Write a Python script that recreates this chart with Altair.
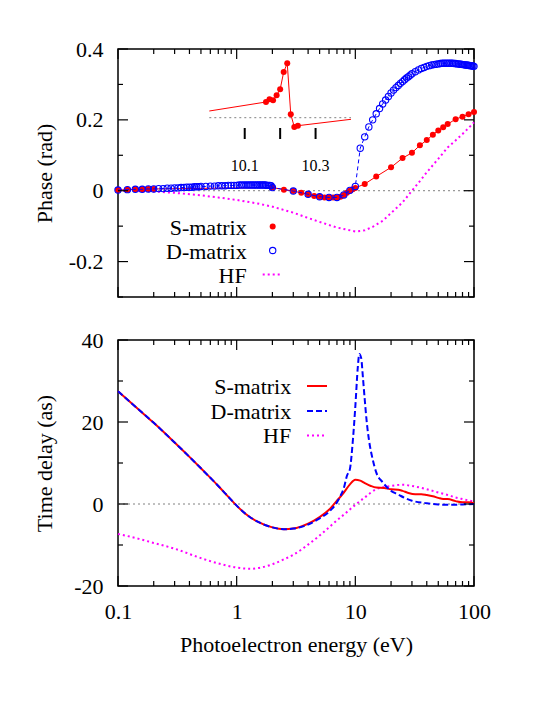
import altair as alt
import pandas as pd

FONT = "Liberation Serif"
RED, BLUE, MAG, GREY, BLACK = "#ff0000", "#0000ff", "#ff00ff", "#808080", "#000000"
W, H1, H2 = 356, 248, 246

# ---------------- top panel: phase (rad) ----------------
s_energy = [0.1, 0.12, 0.14, 0.16, 0.18, 0.2, 2, 2.5, 3, 3.5, 4, 4.5, 5, 5.5, 6, 6.5, 7, 7.5,
            8, 8.5, 9, 9.5, 10, 12, 15, 20, 25, 30, 35, 40, 45, 50, 55, 60, 70, 80, 90, 100]
s_phase = [0.002, 0.003, 0.004, 0.004, 0.005, 0.005, 0.009, 0.003, -0.001, -0.006, -0.010,
           -0.015, -0.017, -0.019, -0.019, -0.019, -0.019, -0.017, -0.012, -0.006, 0.000,
           0.004, 0.008, 0.019, 0.040, 0.066, 0.092, 0.107, 0.128, 0.143, 0.158, 0.170,
           0.179, 0.188, 0.202, 0.209, 0.216, 0.222]

d_energy = [0.10, 0.12, 0.14, 0.16, 0.18, 0.20, 0.22, 0.24, 0.26, 0.28, 0.30, 0.32, 0.34,
            0.36, 0.38, 0.40, 0.42, 0.44, 0.46, 0.48, 0.50, 0.55, 0.60, 0.65, 0.70, 0.75,
            0.80, 0.85, 0.90, 0.95, 1.00, 1.05, 1.10, 1.15, 1.20, 1.25, 1.30, 1.35, 1.40,
            1.45, 1.50, 1.55, 1.60, 1.65, 1.70, 1.75, 1.80, 1.85, 1.90, 1.95,
            2, 3, 4, 5, 6, 7, 8, 9, 10, 11, 12, 13, 14, 15, 16, 17, 18, 19, 20, 21, 22, 23,
            24, 25, 26, 27, 28, 29, 30, 32, 34, 36, 38, 40, 42, 44, 46, 48, 50, 52, 54, 56,
            58, 60, 62, 64, 66, 68, 70, 72, 74, 76, 78, 80, 82, 84, 86, 88, 90, 92, 94, 96,
            98, 100]
d_phase = [0.002, 0.003, 0.004, 0.004, 0.005, 0.005, 0.006, 0.006, 0.007, 0.007, 0.008,
           0.008, 0.009, 0.009, 0.010, 0.010, 0.010, 0.011, 0.011, 0.011, 0.012, 0.012,
           0.013, 0.013, 0.014, 0.014, 0.014, 0.015, 0.015, 0.015, 0.015, 0.016, 0.016,
           0.016, 0.016, 0.016, 0.016, 0.016, 0.016, 0.016, 0.016, 0.016, 0.016, 0.016,
           0.016, 0.016, 0.015, 0.015, 0.015, 0.014,
           0.009, -0.001, -0.010, -0.017, -0.019, -0.019, -0.012, 0.001, 0.012, 0.120,
           0.152, 0.180, 0.200, 0.217, 0.232, 0.245, 0.256, 0.266, 0.276, 0.284, 0.291,
           0.297, 0.303, 0.308, 0.313, 0.318, 0.322, 0.326, 0.330, 0.336, 0.341, 0.345,
           0.348, 0.351, 0.353, 0.355, 0.356, 0.357, 0.358, 0.359, 0.360, 0.360, 0.360,
           0.360, 0.360, 0.360, 0.360, 0.359, 0.359, 0.358, 0.358, 0.357, 0.357, 0.356,
           0.356, 0.355, 0.355, 0.354, 0.354, 0.353, 0.353, 0.352, 0.352, 0.351]

hf_energy = [0.1, 0.2, 0.3, 0.5, 0.7, 1, 1.5, 2, 3, 4, 5, 7, 10, 12, 14, 17, 20, 25, 30, 35,
             40, 50, 60, 70, 80, 90, 100]
hf_phase = [0.000, -0.002, -0.006, -0.013, -0.019, -0.026, -0.036, -0.045, -0.062, -0.077,
            -0.088, -0.104, -0.115, -0.112, -0.102, -0.085, -0.063, -0.033, 0.000, 0.027,
            0.052, 0.090, 0.122, 0.142, 0.160, 0.177, 0.193]

# inset: S-matrix phase near the 10.2 eV resonance
ins_energy = [10.0, 10.16, 10.17, 10.18, 10.19, 10.20, 10.21, 10.22, 10.23, 10.24, 10.25, 10.4]
ins_phase = [0.0067, 0.0157, 0.0184, 0.0174, 0.0224, 0.0284, 0.0457, 0.0544, 0.0034,
             -0.0093, -0.0080, -0.0016]
ins_marked = [False] + [True] * 10 + [False]
ins_ticks = [10.1, 10.2, 10.3]
ins_labels = ["10.1", "10.3"]
ins_label_pos = [10.1, 10.3]

# ---------------- bottom panel: time delay (as) ----------------
ts_energy = [0.1, 0.15, 0.2, 0.3, 0.4, 0.5, 0.7, 0.8, 0.9, 1, 1.2, 1.5, 2, 2.5, 3, 4, 5, 6,
             7, 8, 9, 10, 11, 12, 13.5, 15, 17.5, 20, 23, 25, 28, 32, 36, 40, 45, 50, 55, 60,
             70, 80, 90, 100]
ts_delay = [27.5, 23.0, 19.8, 15.0, 11.5, 8.7, 4.4, 2.6, 1.0, -0.4, -2.5, -4.3, -5.7, -6.15,
            -6.0, -4.8, -3.2, -1.4, 0.8, 2.8, 4.8, 5.9, 5.7, 5.1, 4.4, 4.0, 3.9, 3.6, 3.5,
            3.2, 2.7, 2.4, 2.4, 2.2, 1.9, 1.5, 1.2, 1.2, 0.7, 0.4, 0.4, 0.2]

td_energy = [0.1, 0.15, 0.2, 0.3, 0.4, 0.5, 0.7, 0.8, 0.9, 1, 1.2, 1.5, 2, 2.5, 3, 4, 5, 6,
             7, 7.5, 8, 8.5, 9, 9.5, 10, 10.5, 10.8, 11.2, 11.6, 12, 12.5, 13, 14, 15, 17,
             20, 23, 26, 30, 40, 50, 60, 70, 80, 100]
td_delay = [27.5, 23.0, 19.8, 15.0, 11.5, 8.7, 4.4, 2.6, 1.0, -0.4, -2.5, -4.3, -5.7, -6.15,
            -6.0, -5.0, -3.5, -1.9, 0.4, 2.0, 3.9, 6.9, 8.5, 15.0, 23.8, 33.5, 36.6, 35.6,
            30.7, 25.5, 19.8, 15.8, 10.9, 7.7, 5.3, 3.2, 2.3, 1.5, 0.8, 0.2, -0.1, -0.2,
            -0.2, -0.1, 0.0]

thf_energy = [0.1, 0.15, 0.2, 0.3, 0.5, 0.7, 1, 1.3, 1.6, 2, 2.5, 3, 4, 5, 6, 7, 8, 10, 12,
              15, 20, 25, 30, 40, 50, 60, 70, 80, 100]
thf_delay = [-7.3, -8.5, -9.5, -10.9, -13.2, -14.5, -15.5, -15.8, -15.5, -14.7, -13.5, -12.4,
             -9.9, -7.7, -5.7, -4.0, -2.6, -0.2, 1.6, 3.6, 4.4, 4.7, 4.4, 3.6, 2.8, 2.2, 1.6,
             1.2, 0.6]

# ---------------- ticks ----------------
x_major = [0.1, 1, 10, 100]
x_minor = [0.2, 0.3, 0.4, 0.5, 0.6, 0.7, 0.8, 0.9, 2, 3, 4, 5, 6, 7, 8, 9,
           20, 30, 40, 50, 60, 70, 80, 90]
phase_major = [-0.2, 0, 0.2, 0.4]
phase_minor = [-0.3, -0.1, 0.1, 0.3]
delay_major = [-20, 0, 20, 40]
delay_minor = [-10, 10, 30]
legend_names = ["S-matrix", "D-matrix", "HF"]

# ---------------- scales & axes ----------------
xs = alt.Scale(type="log", domain=[0.1, 100])
ys_top = alt.Scale(domain=[-0.3, 0.4], nice=False, zero=False)
ys_bot = alt.Scale(domain=[-20, 40], nice=False, zero=False)
ins_xs = alt.Scale(domain=[10.0, 10.4], range=[91.3, 233])
ins_ys = alt.Scale(domain=[-0.02, 0.06], range=[88.7, 8.7], nice=False, zero=False)

y_top_axis = alt.Axis(values=phase_major, ticks=False, domain=False, grid=False,
                      labelPadding=15, labelFlush=False, labelOverlap=False,
                      labelExpr="datum.value == 0 ? '0' : (datum.value < 0 ? '-' + format(-datum.value, '.1f') : format(datum.value, '.1f'))",
                      title="Phase (rad)", titleX=-74, titleY=H1 / 2, titleAngle=270,
                      titleAlign="center", titleBaseline="middle")
x_bot_axis = alt.Axis(values=x_major, ticks=False, domain=False, grid=False,
                      labelPadding=15, labelFlush=False, labelOverlap=False,
                      labelExpr="format(datum.value, '~g')",
                      title="Photoelectron energy (eV)", titlePadding=12)
y_bot_axis = alt.Axis(values=delay_major, ticks=False, domain=False, grid=False,
                      labelPadding=15, labelFlush=False, labelOverlap=False,
                      labelExpr="datum.value < 0 ? '-' + format(-datum.value, 'd') : format(datum.value, 'd')",
                      title="Time delay (as)", titleX=-74, titleY=H2 / 2, titleAngle=270,
                      titleAlign="center", titleBaseline="middle")

one = pd.DataFrame({"a": [0]})


def X(field, panel):
    if panel == "top":
        return alt.X(f"{field}:Q", scale=xs, axis=None)
    return alt.X(f"{field}:Q", scale=xs, axis=x_bot_axis)


def Y(field, panel):
    if panel == "top":
        return alt.Y(f"{field}:Q", scale=ys_top, axis=y_top_axis)
    return alt.Y(f"{field}:Q", scale=ys_bot, axis=y_bot_axis)


def tick_layers(panel, ymaj, ymin, h):
    out = []
    for vals, L in [(x_major, 10), (x_minor, 5)]:
        df = pd.DataFrame({"E": vals})
        out.append(alt.Chart(df).mark_rule(color=BLACK, strokeWidth=1.2).encode(
            x=X("E", panel), y=alt.value(0), y2=alt.value(L)))
        out.append(alt.Chart(df).mark_rule(color=BLACK, strokeWidth=1.2).encode(
            x=X("E", panel), y=alt.value(h), y2=alt.value(h - L)))
    for vals, L in [(ymaj, 10), (ymin, 5)]:
        df = pd.DataFrame({"v": vals})
        out.append(alt.Chart(df).mark_rule(color=BLACK, strokeWidth=1.2).encode(
            y=Y("v", panel), x=alt.value(0), x2=alt.value(L)))
        out.append(alt.Chart(df).mark_rule(color=BLACK, strokeWidth=1.2).encode(
            y=Y("v", panel), x=alt.value(W), x2=alt.value(W - L)))
    return out


def zero_line(panel):
    df = pd.DataFrame({"E0": [0.1], "E1": [100], "v": [0]})
    return alt.Chart(df).mark_rule(color=GREY, strokeWidth=1, strokeDash=[2, 3]).encode(
        x=X("E0", panel), x2="E1:Q", y=Y("v", panel))


def text_at(t, x, y, size=22, align="right"):
    return alt.Chart(one).mark_text(text=t, font=FONT, fontSize=size, align=align,
                                    baseline="middle", color=BLACK).encode(
        x=alt.value(x), y=alt.value(y))


# ---------------- top panel ----------------
s_df = pd.DataFrame({"E": s_energy, "v": s_phase})
d_df = pd.DataFrame({"E": d_energy, "v": d_phase})
hf_df = pd.DataFrame({"E": hf_energy, "v": hf_phase})

top_main = alt.layer(
    alt.Chart(hf_df).mark_line(color=MAG, strokeWidth=2, strokeDash=[2, 3]).encode(
        x=X("E", "top"), y=Y("v", "top")),
    zero_line("top"),
    alt.Chart(s_df).mark_line(color=RED, strokeWidth=1).encode(
        x=X("E", "top"), y=Y("v", "top")),
    alt.Chart(s_df).mark_circle(color=RED, size=36, opacity=1).encode(
        x=X("E", "top"), y=Y("v", "top")),
    alt.Chart(d_df).mark_line(color=BLUE, strokeWidth=1, strokeDash=[4, 3]).encode(
        x=X("E", "top"), y=Y("v", "top")),
    alt.Chart(d_df).mark_point(color=BLUE, size=40, strokeWidth=1.1, filled=False,
                               opacity=1).encode(x=X("E", "top"), y=Y("v", "top")),
    *tick_layers("top", phase_major, phase_minor, H1),
    # legend
    text_at(legend_names[0], 128.7, 178.5),
    text_at(legend_names[1], 128.7, 202.5),
    text_at(legend_names[2], 128.7, 226.5),
    alt.Chart(one).mark_circle(color=RED, size=36, opacity=1).encode(
        x=alt.value(154.7), y=alt.value(177.5)),
    alt.Chart(one).mark_point(color=BLUE, size=40, strokeWidth=1.1, filled=False,
                              opacity=1).encode(x=alt.value(154.7), y=alt.value(201.5)),
    alt.Chart(one).mark_rule(color=MAG, strokeWidth=2, strokeDash=[2, 3]).encode(
        x=alt.value(144.7), x2=alt.value(164.7), y=alt.value(225.5)),
)

ins_df = pd.DataFrame({"E": ins_energy, "v": ins_phase, "m": ins_marked})
ins_tick_df = pd.DataFrame({"E": ins_ticks})
ins_lab_df = pd.DataFrame({"E": ins_label_pos, "lab": ins_labels})
ins_zero_df = pd.DataFrame({"E0": [10.0], "E1": [10.4], "v": [0]})

top_inset = alt.layer(
    alt.Chart(ins_zero_df).mark_rule(color=GREY, strokeWidth=1, strokeDash=[2, 3]).encode(
        x=alt.X("E0:Q", scale=ins_xs, axis=None), x2="E1:Q",
        y=alt.Y("v:Q", scale=ins_ys, axis=None)),
    alt.Chart(ins_df).mark_line(color=RED, strokeWidth=1).encode(
        x=alt.X("E:Q", scale=ins_xs, axis=None), y=alt.Y("v:Q", scale=ins_ys, axis=None)),
    alt.Chart(ins_df).transform_filter("datum.m").mark_circle(
        color=RED, size=36, opacity=1).encode(
        x=alt.X("E:Q", scale=ins_xs, axis=None), y=alt.Y("v:Q", scale=ins_ys, axis=None)),
    alt.Chart(ins_tick_df).mark_rule(color=BLACK, strokeWidth=2).encode(
        x=alt.X("E:Q", scale=ins_xs, axis=None), y=alt.value(79), y2=alt.value(90)),
    alt.Chart(ins_lab_df).mark_text(font=FONT, fontSize=16, baseline="middle",
                                    align="center", color=BLACK).encode(
        x=alt.X("E:Q", scale=ins_xs, axis=None), y=alt.value(117), text="lab:N"),
)

top = alt.layer(top_main, top_inset).resolve_scale(
    x="independent", y="independent").properties(width=W, height=H1)

# ---------------- bottom panel ----------------
ts_df = pd.DataFrame({"E": ts_energy, "v": ts_delay})
td_df = pd.DataFrame({"E": td_energy, "v": td_delay})
thf_df = pd.DataFrame({"E": thf_energy, "v": thf_delay})

bottom = alt.layer(
    alt.Chart(thf_df).mark_line(color=MAG, strokeWidth=2, strokeDash=[2, 3],
                                interpolate="monotone").encode(
        x=X("E", "bot"), y=Y("v", "bot")),
    zero_line("bot"),
    alt.Chart(ts_df).mark_line(color=RED, strokeWidth=2, interpolate="monotone").encode(
        x=X("E", "bot"), y=Y("v", "bot")),
    alt.Chart(td_df).mark_line(color=BLUE, strokeWidth=2, strokeDash=[6, 3],
                               interpolate="monotone").encode(
        x=X("E", "bot"), y=Y("v", "bot")),
    *tick_layers("bot", delay_major, delay_minor, H2),
    text_at(legend_names[0], 173.2, 46.5),
    text_at(legend_names[1], 173.2, 71.5),
    text_at(legend_names[2], 173.2, 96),
    alt.Chart(one).mark_rule(color=RED, strokeWidth=2).encode(
        x=alt.value(189), x2=alt.value(209), y=alt.value(46)),
    alt.Chart(one).mark_rule(color=BLUE, strokeWidth=2, strokeDash=[6, 3]).encode(
        x=alt.value(189), x2=alt.value(209), y=alt.value(71)),
    alt.Chart(one).mark_rule(color=MAG, strokeWidth=2, strokeDash=[2, 3]).encode(
        x=alt.value(189), x2=alt.value(209), y=alt.value(95.5)),
).properties(width=W, height=H2)

chart = alt.vconcat(top, bottom, spacing=29).resolve_scale(
    x="independent", y="independent").properties(
    padding={"left": 24, "top": 29, "right": 5, "bottom": 5}
).configure_view(stroke=BLACK, strokeWidth=1.5).configure_axis(
    labelFont=FONT, titleFont=FONT, labelFontSize=22, titleFontSize=22,
    labelColor=BLACK, titleColor=BLACK, titleFontWeight="normal"
).configure_text(font=FONT)

chart.save("out.html", embed_options={"renderer": "svg", "actions": False})
